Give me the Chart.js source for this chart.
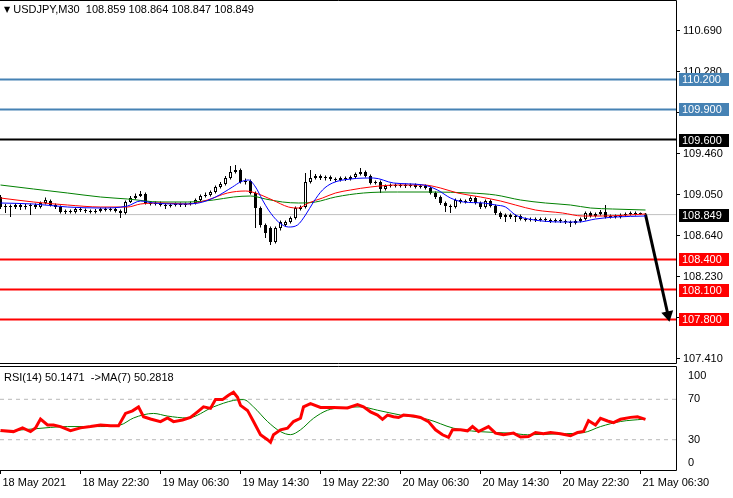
<!DOCTYPE html>
<html>
<head>
<meta charset="utf-8">
<script src="https://cdn.jsdelivr.net/npm/chart.js@4.4.1/dist/chart.umd.min.js"></script>
<style>
html, body { margin: 0; padding: 0; background: #fff; width: 733px; height: 498px; overflow: hidden; }
canvas { position: absolute; left: 0; }
#main { top: 0; }
#rsi { top: 364px; }
.lbl { position: absolute; font: 11px 'Liberation Sans', Arial, sans-serif; color: #000; white-space: pre; line-height: 13px; }
.tri { font-size: 8px; vertical-align: 1px; font-family: 'DejaVu Sans', sans-serif; }
</style>
</head>
<body>
<canvas id="main" width="733" height="372"></canvas>
<canvas id="rsi" width="733" height="134"></canvas>
<div class="lbl" style="left:4px;top:3px"><span class="tri">▼</span> USDJPY,M30  108.859 108.864 108.847 108.849</div>
<div class="lbl" style="left:4px;top:371px">RSI(14) 50.1471  -&gt;MA(7) 50.2818</div>
<script>
// USDJPY M30 candles, bar 0 = 18 May 14:30
const OPEN = [
  109.025,108.925,108.935,108.925,108.945,108.925,108.935,108.945,108.925,108.965,
  108.985,108.945,108.925,108.875,108.885,108.875,108.905,108.895,108.885,108.875,
  108.885,108.905,108.895,108.905,108.885,108.865,108.975,109.015,109.035,109.055,
  108.965,108.955,108.965,108.945,108.935,108.945,108.955,108.945,108.955,108.965,
  108.995,109.035,109.045,109.075,109.125,109.155,109.215,109.275,109.295,109.175,
  109.185,109.065,108.915,108.745,108.715,108.575,108.715,108.745,108.775,108.815,
  108.905,108.925,109.175,109.215,109.235,109.215,109.225,109.205,109.195,109.215,
  109.205,109.225,109.255,109.275,109.235,109.165,109.175,109.105,109.135,109.145,
  109.135,109.145,109.135,109.145,109.125,109.135,109.115,109.065,109.025,108.965,
  108.935,108.925,108.995,108.975,108.985,109.015,108.965,108.925,108.985,108.935,
  108.865,108.825,108.845,108.825,108.835,108.805,108.795,108.805,108.795,108.805,
  108.795,108.785,108.795,108.785,108.775,108.765,108.785,108.805,108.865,108.835,
  108.855,108.875,108.825,108.835,108.825,108.845,108.855,108.865,108.855,108.859
];
const HIGH = [
  109.045,108.955,108.950,108.960,108.960,108.955,108.960,108.960,108.980,109.020,
  109.000,108.960,108.940,108.900,108.900,108.920,108.920,108.910,108.900,108.905,
  108.920,108.920,108.920,108.915,108.900,108.990,109.035,109.060,109.085,109.070,
  108.980,108.980,108.980,108.960,108.960,108.970,108.970,108.970,108.980,109.010,
  109.050,109.070,109.090,109.140,109.175,109.235,109.335,109.345,109.310,109.210,
  109.200,109.080,108.930,108.760,108.730,108.730,108.790,108.790,108.830,108.930,
  108.940,109.265,109.295,109.255,109.250,109.240,109.240,109.220,109.230,109.230,
  109.240,109.270,109.315,109.290,109.250,109.190,109.190,109.150,109.160,109.160,
  109.160,109.160,109.160,109.160,109.150,109.150,109.130,109.080,109.040,108.980,
  108.950,109.010,109.010,109.000,109.030,109.030,108.980,109.000,109.000,108.950,
  108.880,108.860,108.860,108.850,108.850,108.820,108.820,108.820,108.820,108.820,
  108.810,108.810,108.810,108.800,108.790,108.800,108.820,108.880,108.880,108.870,
  108.895,108.945,108.850,108.850,108.860,108.870,108.880,108.880,108.870,108.864
];
const LOW = [
  108.905,108.865,108.825,108.905,108.895,108.900,108.845,108.905,108.910,108.950,
  108.930,108.905,108.860,108.855,108.860,108.860,108.875,108.865,108.860,108.860,
  108.870,108.880,108.880,108.870,108.815,108.850,108.965,109.000,109.025,108.950,
  108.940,108.940,108.930,108.905,108.920,108.930,108.925,108.925,108.940,108.950,
  108.980,109.020,109.030,109.060,109.110,109.140,109.200,109.260,109.160,109.150,
  109.050,108.715,108.720,108.615,108.545,108.560,108.690,108.730,108.760,108.800,
  108.890,108.910,109.160,109.200,109.195,109.190,109.185,109.175,109.180,109.185,
  109.190,109.210,109.240,109.220,109.150,109.150,109.065,109.090,109.120,109.120,
  109.120,109.115,109.120,109.110,109.110,109.100,109.050,109.005,108.945,108.875,
  108.865,108.910,108.960,108.960,108.970,108.950,108.905,108.910,108.920,108.845,
  108.805,108.775,108.805,108.775,108.790,108.780,108.780,108.775,108.780,108.775,
  108.765,108.770,108.765,108.755,108.725,108.750,108.770,108.790,108.820,108.820,
  108.840,108.810,108.810,108.810,108.810,108.830,108.840,108.840,108.845,108.847
];
const CLOSE = [
  108.925,108.935,108.925,108.945,108.925,108.935,108.945,108.925,108.965,108.995,
  108.945,108.925,108.875,108.885,108.875,108.905,108.895,108.885,108.875,108.885,
  108.905,108.895,108.905,108.885,108.865,108.975,109.015,109.035,109.055,108.965,
  108.955,108.965,108.945,108.935,108.945,108.955,108.945,108.955,108.965,108.995,
  109.035,109.045,109.075,109.125,109.155,109.215,109.275,109.295,109.175,109.185,
  109.065,108.915,108.745,108.665,108.575,108.715,108.775,108.775,108.815,108.915,
  108.925,109.175,109.215,109.235,109.215,109.225,109.205,109.195,109.215,109.205,
  109.225,109.255,109.275,109.235,109.165,109.175,109.105,109.135,109.145,109.135,
  109.145,109.135,109.145,109.125,109.135,109.115,109.065,109.025,108.965,108.935,
  108.925,108.995,108.975,108.985,109.015,108.965,108.925,108.985,108.935,108.865,
  108.825,108.845,108.825,108.835,108.805,108.795,108.805,108.795,108.805,108.795,
  108.785,108.795,108.785,108.775,108.765,108.785,108.805,108.865,108.835,108.855,
  108.875,108.825,108.835,108.825,108.845,108.855,108.865,108.855,108.859,108.849
];

// moving averages: [bar, price]
const MA_FAST = [[0,108.965],[6.6,108.955],[13.4,108.925],[20,108.915],[25.4,108.935],[28,108.985],[30.6,108.965],[36,108.955],[39.6,108.965],[43,109.025],[46.4,109.125],[48,109.175],[49.6,109.195],[51,109.125],[52.4,108.995],[53.6,108.895],[55.6,108.775],[57.6,108.725],[59.4,108.745],[61,108.845],[62.6,108.975],[64.4,109.095],[66.4,109.165],[70,109.205],[74.6,109.215],[78.6,109.165],[84.6,109.145],[87.4,109.095],[90,109.015],[92.6,108.975],[96.6,108.965],[99,108.945],[101,108.925],[103,108.845],[105.6,108.805],[112.4,108.775],[115.6,108.775],[119,108.805],[123,108.825],[129,108.835]];
const MA_MID = [[0,109.015],[6.6,108.975],[13.4,108.945],[20,108.925],[25.4,108.925],[28,108.955],[32,108.965],[37.4,108.955],[41.4,108.995],[45.4,109.065],[49,109.085],[51,109.065],[54.4,108.995],[57.6,108.925],[59.6,108.915],[61.6,108.965],[64.4,109.015],[67,109.065],[70,109.095],[74,109.125],[79.4,109.145],[84.6,109.145],[88,109.115],[91.4,109.065],[96,109.025],[100,108.985],[103,108.945],[107,108.895],[112.4,108.865],[116.4,108.835],[120.4,108.835],[125.6,108.845],[129,108.855]];
const MA_SLOW = [[0,109.145],[6.6,109.105],[13.4,109.065],[20,109.025],[25.4,109.005],[32,108.975],[37.4,108.975],[42.6,108.995],[46.6,109.025],[50,109.035],[53,109.005],[56.4,108.975],[59.6,108.965],[63,108.975],[67,109.025],[72.6,109.065],[79.4,109.075],[86,109.075],[94,109.065],[99,109.045],[104,108.995],[109,108.965],[114,108.945],[118,108.915],[122.4,108.905],[129,108.895]];

// RSI(14) and its MA(7): [bar, value]
const RSI = [[0,39],[2.6,38],[4.4,41.7],[6,38],[7,41.7],[8,50.5],[9.4,44.6],[10.6,44.6],[12,43],[14,39],[16,41.7],[18,43],[20,44.6],[22,43.7],[23.6,43.7],[25,56],[26.4,58.6],[27.6,62.5],[28.6,52.7],[30,50.5],[32,47.9],[33.4,51.5],[34.6,47.9],[36.4,49.5],[38,52],[39.4,57.6],[40.6,62.5],[42,61],[43,69.7],[44.4,69.7],[45.6,74],[46.6,77],[47.4,72],[48,64],[49.4,59],[50.6,48],[52,35],[53.4,30],[54,27.4],[54.6,35],[56,39.8],[57.4,41.4],[58.6,48],[60,51.2],[60.6,62.5],[62,65.8],[64,61.9],[66.6,62],[69.4,61.5],[71.4,64.8],[72.6,62.5],[74,57.6],[75.4,54.4],[76.4,50.2],[77.4,54.4],[78.6,52.7],[79.6,52],[80.6,54.4],[82.6,53.4],[84,52],[85.6,47.9],[87,39.8],[88.4,34.9],[89.6,32.3],[90.4,39.8],[92,39.8],[93.4,38.8],[94.4,43],[95.6,38.1],[97.6,43],[99,36.5],[100.6,34.9],[102.6,36.5],[104,32.6],[105.6,33.2],[107,37.1],[108.6,35.9],[110,37.1],[112,35.9],[114,33.9],[115.4,37.1],[116.6,38.1],[117.6,48.8],[119,44.6],[120,51.2],[121.4,48.5],[122.6,46.9],[124,50.2],[126,52.1],[127.4,52.7],[129,50.1]];
const RSI_MA = [[0,38],[6.6,40.7],[13.4,43],[20,43],[24,44.6],[26.6,51.5],[30.6,56],[33.4,53.4],[37.4,51.5],[42.6,62.5],[46.6,68.9],[48.6,69.7],[50.6,62.5],[53.4,48],[56,38],[58,35],[60,39.8],[62.6,51.2],[65.4,59.2],[68,61.5],[72,62.5],[75.4,59.2],[80,54.4],[85.4,50.2],[90.6,41.4],[95.4,38.1],[102,36.5],[105.4,34.9],[112,35.9],[116.6,37],[120,43],[124,48],[128.6,50.3]];
const RSI_LEVELS = [70, 30];

const BLUE_LEVELS = [110.200, 109.900];
const BLACK_LEVELS = [109.600];
const RED_LEVELS = [108.400, 108.100, 107.800];
const LAST_PRICE = 108.849;
const ARROW = [[129, 108.849], [133.5, 107.845]];

const PRICE_TICKS = [107.41, 107.82, 108.23, 108.64, 109.05, 109.46, 109.87, 110.28, 110.69];
const TIME_TICKS = [0, 16, 32, 48, 64, 80, 96, 112, 128];
const TIME_LABELS = ['18 May 2021', '18 May 22:30', '19 May 06:30', '19 May 14:30', '19 May 22:30',
  '20 May 06:30', '20 May 14:30', '20 May 22:30', '21 May 06:30'];

// bar spacing 5px over a 676px plot; -0.1 keeps candles on whole pixels
const X_MIN = -0.1;
const X_MAX = 135.1;
const STEEL = '#4682b4';

Chart.defaults.font.family = "'Liberation Sans', Arial, sans-serif";
Chart.defaults.font.size = 11;
Chart.defaults.color = '#000';
Chart.defaults.animation = false;
Chart.defaults.events = [];
Chart.defaults.plugins.legend.display = false;
Chart.defaults.plugins.tooltip.enabled = false;

const pts = arr => arr.map(([x, y]) => ({ x, y }));
const hline = (v, color, width, order, dash) => ({
  type: 'line', data: [{ x: X_MIN, y: v }, { x: X_MAX, y: v }],
  borderColor: color, borderWidth: width, pointRadius: 0, order, borderDash: dash || []
});
const maLine = (arr, color) => ({
  type: 'line', data: pts(arr), borderColor: color, borderWidth: 1,
  pointRadius: 0, tension: 0.3, cubicInterpolationMode: 'monotone', order: 0
});

const bars = OPEN.map((_, i) => i);
const upBar = OPEN.map((o, i) => CLOSE[i] >= o);

const framePlugin = {
  id: 'frame',
  beforeDatasetsDraw(chart, args, opts) {
    const { ctx, chartArea: a } = chart;
    ctx.save();
    ctx.strokeStyle = '#000';
    ctx.lineWidth = 1;
    ctx.beginPath();
    const top = a.top - (opts.topGap || 0);
    ctx.moveTo(a.left, top + 0.5); ctx.lineTo(a.right + 0.5, top + 0.5);
    ctx.lineTo(a.right + 0.5, a.bottom + 0.5); ctx.lineTo(a.left, a.bottom + 0.5);
    ctx.stroke();
    ctx.restore();
  }
};

const boxPlugin = {
  id: 'boxes',
  afterDraw(chart) {
    const { ctx, chartArea: a } = chart;
    const y = chart.scales.y;
    const items = [];
    BLUE_LEVELS.forEach(v => items.push([v, STEEL]));
    BLACK_LEVELS.forEach(v => items.push([v, '#000']));
    items.push([LAST_PRICE, '#000']);
    RED_LEVELS.forEach(v => items.push([v, '#ff0000']));
    ctx.save();
    ctx.font = "11px 'Liberation Sans', Arial, sans-serif";
    ctx.textBaseline = 'middle';
    items.forEach(([v, c]) => {
      const py = Math.round(y.getPixelForValue(v));
      ctx.fillStyle = c;
      ctx.fillRect(a.right + 3, py - 6, 50, 13);
      ctx.fillStyle = '#fff';
      ctx.fillText(v.toFixed(3), a.right + 6, py + 0.5);
    });
    ctx.restore();
  }
};

new Chart(document.getElementById('main'), {
  type: 'bar',
  data: {
    datasets: [
      maLine(MA_FAST, '#0000ff'),
      maLine(MA_MID, '#ff0000'),
      maLine(MA_SLOW, '#008000'),
      {
        type: 'line', data: pts(ARROW), borderColor: '#000', borderWidth: 3,
        pointRadius: [0, 7], pointStyle: 'triangle', pointRotation: 168,
        pointBackgroundColor: '#000', pointBorderColor: '#000', pointBorderWidth: 0, order: 0
      },
      {
        data: bars.map(i => ({ x: i, y: [OPEN[i], CLOSE[i]] })),
        backgroundColor: upBar.map(u => u ? '#fff' : '#000'),
        borderColor: '#000', borderWidth: 1, borderSkipped: false,
        barThickness: 3, grouped: false, minBarLength: 1, inflateAmount: 0, order: 1
      },
      {
        data: bars.map(i => ({ x: i, y: [LOW[i], HIGH[i]] })),
        backgroundColor: '#000', barThickness: 1, grouped: false, inflateAmount: 0, order: 2
      },
      ...BLUE_LEVELS.map(v => hline(v, STEEL, 2, 3)),
      ...BLACK_LEVELS.map(v => hline(v, '#000', 2, 3)),
      ...RED_LEVELS.map(v => hline(v, '#ff0000', 2, 3)),
      hline(LAST_PRICE, '#c0c0c0', 1, 4)
    ]
  },
  options: {
    responsive: false,
    layout: { autoPadding: false, padding: { top: 0, bottom: 9, left: 0, right: 0 } },
    scales: {
      x: { type: 'linear', min: X_MIN, max: X_MAX, offset: false, display: false },
      y: {
        position: 'right', min: 107.365, max: 110.995,
        afterBuildTicks: s => { s.ticks = PRICE_TICKS.map(v => ({ value: v })); },
        afterFit: s => { s.width = 57; s.paddingTop = 0; s.paddingBottom = 0; },
        ticks: { callback: v => v.toFixed(3), padding: 3 },
        grid: { drawOnChartArea: false, drawTicks: true, tickLength: 4, color: '#000' },
        border: { display: false }
      }
    },
    plugins: { frame: { topGap: 0 } }
  },
  plugins: [framePlugin, boxPlugin]
});

new Chart(document.getElementById('rsi'), {
  type: 'line',
  data: {
    datasets: [
      { data: pts(RSI), borderColor: '#ff0000', borderWidth: 3, pointRadius: 0, order: 0 },
      { data: pts(RSI_MA), borderColor: '#008000', borderWidth: 1, pointRadius: 0, tension: 0.3, cubicInterpolationMode: 'monotone', order: 1 },
      ...RSI_LEVELS.map(v => hline(v, '#b8b8b8', 1, 2, [4, 4]))
    ]
  },
  options: {
    responsive: false,
    layout: { autoPadding: false, padding: { top: 5, bottom: 0, left: 0, right: 0 } },
    scales: {
      x: {
        type: 'linear', min: X_MIN, max: X_MAX, offset: false,
        afterBuildTicks: s => { s.ticks = TIME_TICKS.map(v => ({ value: v })); },
        afterFit: s => { s.height = 28; s.paddingLeft = 0; s.paddingRight = 0; },
        ticks: { callback: (v, i) => TIME_LABELS[i], align: 'start', labelOffset: 2, padding: 2, autoSkip: false, maxRotation: 0, minRotation: 0 },
        grid: { drawOnChartArea: false, drawTicks: true, tickLength: 4, color: '#000' },
        border: { display: false }
      },
      y: {
        position: 'right', min: 0, max: 100,
        afterBuildTicks: s => { s.ticks = [0, 30, 70, 100].map(v => ({ value: v })); },
        afterFit: s => { s.width = 57; s.paddingTop = 0; s.paddingBottom = 0; },
        ticks: { callback: v => v === 100 ? ['', '100'] : v === 0 ? ['0', ''] : String(v), padding: 4 },
        grid: { display: false },
        border: { display: false }
      }
    },
    plugins: { frame: { topGap: 3 } }
  },
  plugins: [framePlugin]
});
</script>
</body>
</html>
